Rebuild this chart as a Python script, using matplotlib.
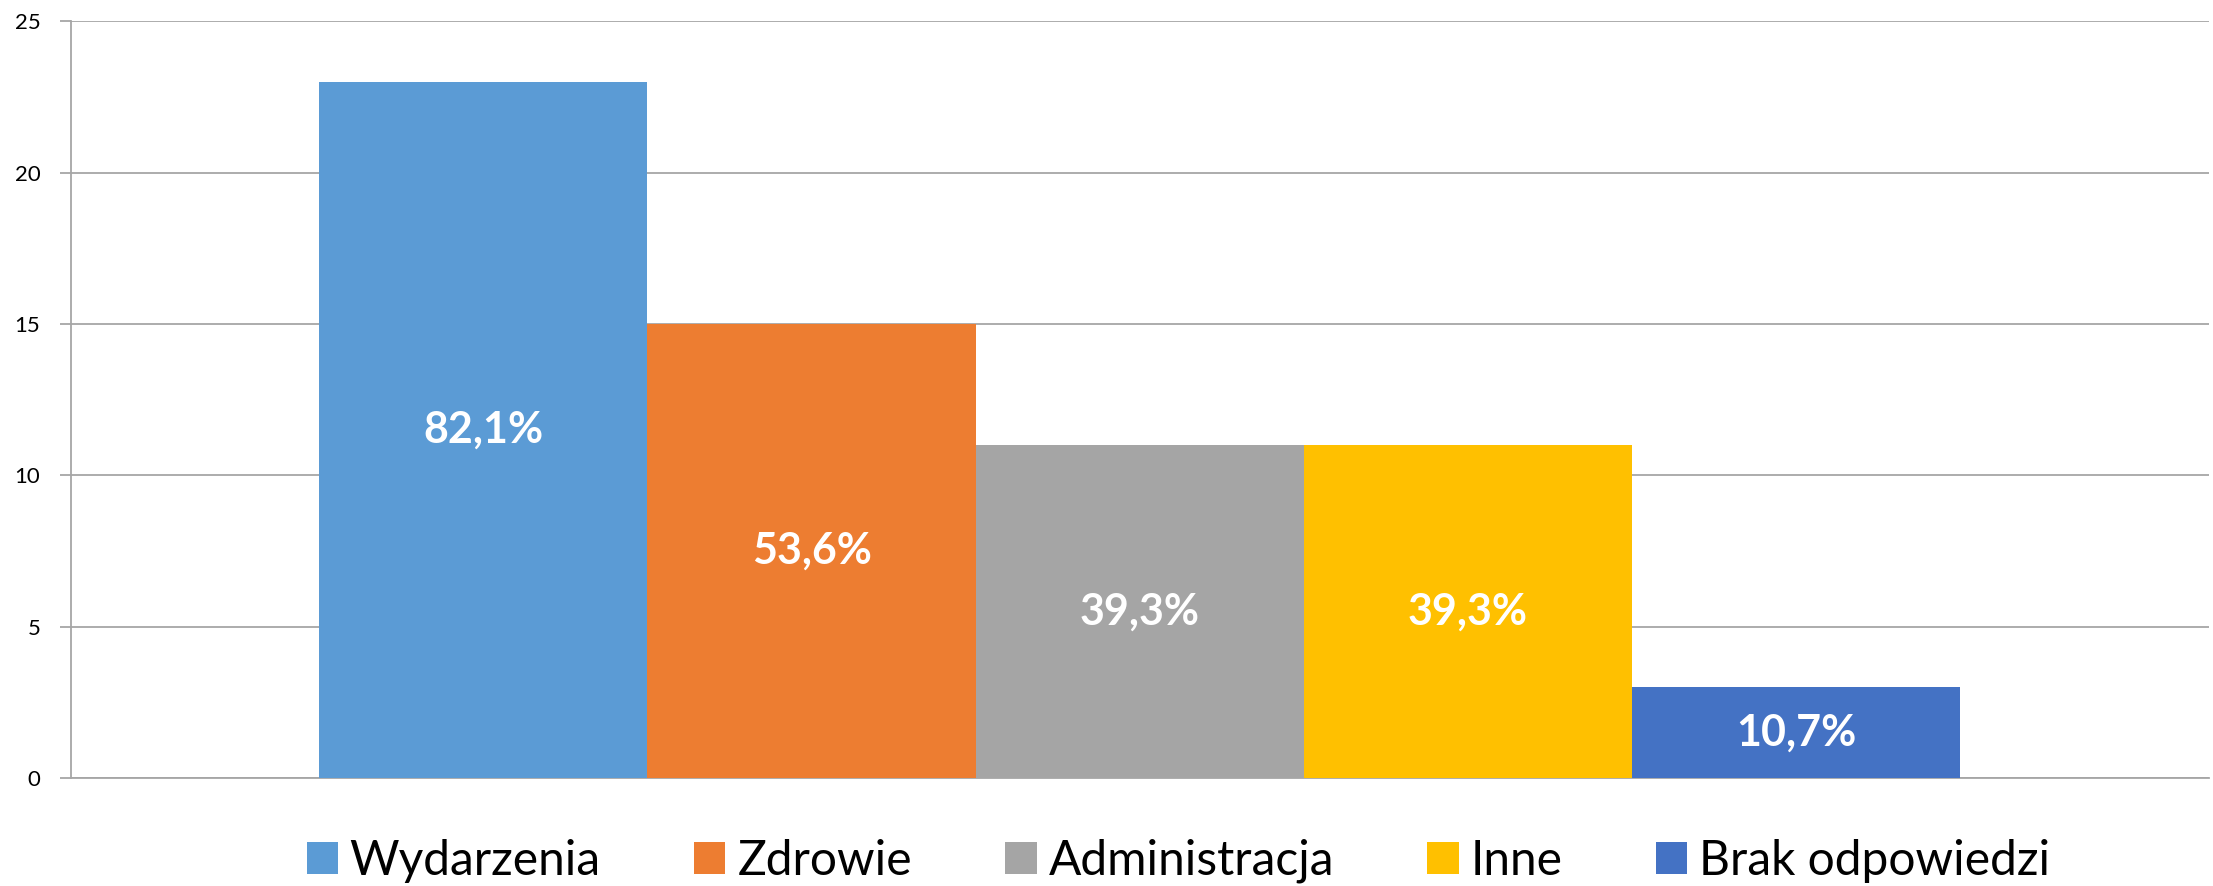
import matplotlib
matplotlib.use("Agg")
import matplotlib.pyplot as plt
from matplotlib.patches import Patch

series = ["Wydarzenia", "Zdrowie", "Administracja", "Inne", "Brak odpowiedzi"]
counts = [23, 15, 11, 11, 3]
pct_labels = ["82,1%", "53,6%", "39,3%", "39,3%", "10,7%"]
colors = ["#5B9BD5", "#ED7D31", "#A5A5A5", "#FFC000", "#4472C4"]
yticks = [0, 5, 10, 15, 20, 25]

plt.rcParams["font.family"] = ["Lato", "DejaVu Sans"]

fig = plt.figure(figsize=(22.13, 8.86), dpi=100)
ax = fig.add_axes([0.032, 0.122, 0.966, 0.854])

w = 0.1535
n = len(series)
for i, (name, v, lab, c) in enumerate(zip(series, counts, pct_labels, colors)):
    x = (i - (n - 1) / 2) * w
    ax.bar(x, v, width=w, color=c, zorder=3, label=name)
    ax.text(x, v / 2, lab, ha="center", va="center", color="white",
            fontsize=31, fontweight="bold", zorder=4)

ax.set_xlim(-0.5, 0.5)
ax.set_ylim(0, 25)
ax.set_yticks(yticks)
ax.set_yticklabels([str(t) for t in yticks], fontsize=16)
ax.set_xticks([])
ax.grid(axis="y", color="#A6A6A6", lw=1.3, zorder=0)
for s in ["top", "right"]:
    ax.spines[s].set_visible(False)
for s in ["left", "bottom"]:
    ax.spines[s].set_color("#A6A6A6")
    ax.spines[s].set_linewidth(1.3)
ax.tick_params(axis="y", length=8, width=1.3, color="#A6A6A6", pad=14)

handles = [Patch(facecolor=c, label=s) for s, c in zip(series, colors)]
fig.legend(handles=handles, loc="center", bbox_to_anchor=(0.5325, 0.028),
           ncol=n, frameon=False, fontsize=34.5, handlelength=0.65,
           handleheight=0.65, handletextpad=0.25, columnspacing=1.95)

fig.savefig("out.png", dpi=100)
